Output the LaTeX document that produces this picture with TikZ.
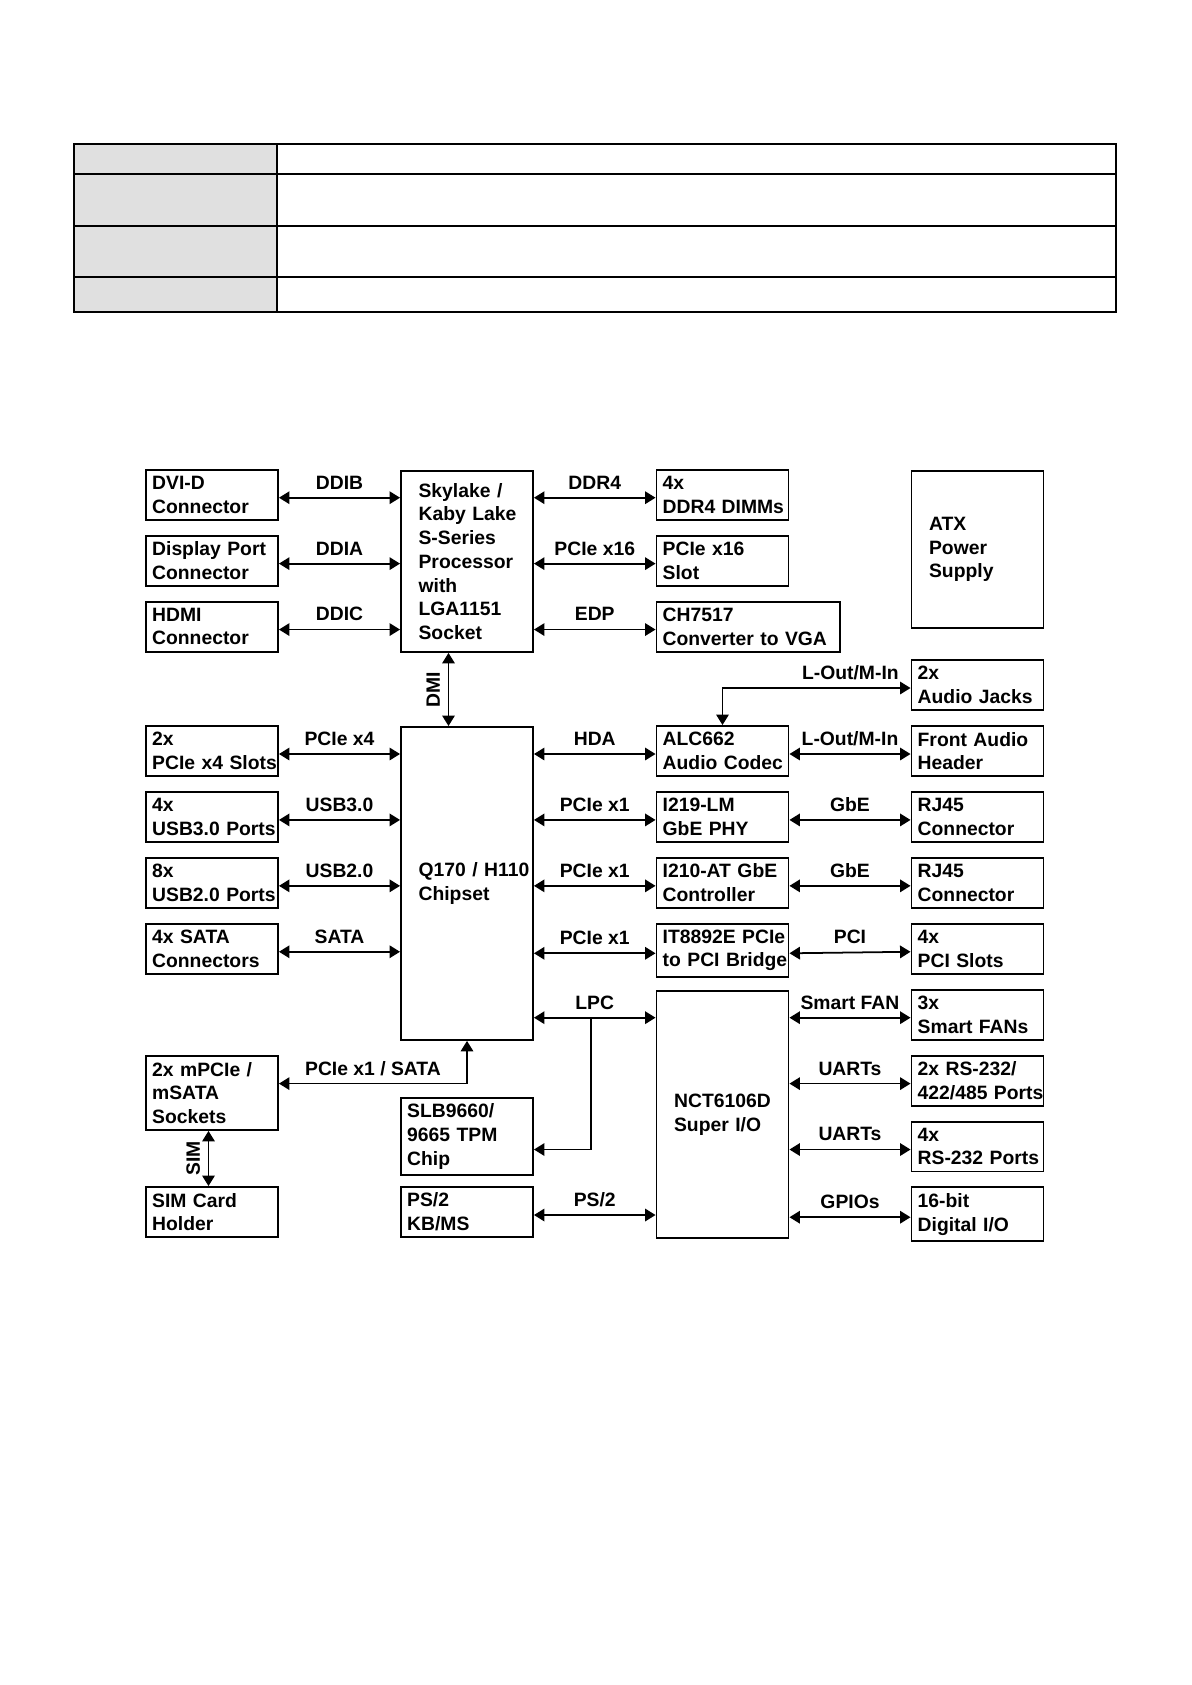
\documentclass[tikz,border=0pt]{standalone}
\usepackage{fontspec}
\setmainfont{Liberation Sans}
\usetikzlibrary{arrows.meta,positioning,calc}
\definecolor{hdrgray}{RGB}{224,224,224}
\newcommand{\busline}[3]{\draw[arr] ([yshift=-0.06cm]#1) -- ([yshift=-0.06cm]#2) node[lbl, midway, above=4.4pt] {#3};}

\begin{document}
\begin{tikzpicture}[x=0.02cm, y=-0.02cm, node distance=0.28cm,
  blk/.style={draw, line width=1.1pt, minimum width=2.64cm, minimum height=1cm, text width=68.1pt, inner xsep=3.5pt, align=left, font=\fontsize{11}{13.5}\selectfont\bfseries},
  bigblk/.style={blk, text width=55.1pt, inner xsep=10pt},
  arr/.style={{Triangle[length=2.1mm,width=2.5mm]}-{Triangle[length=2.1mm,width=2.5mm]}, line width=1pt},
  onearr/.style={-{Triangle[length=2.1mm,width=2.5mm]}, line width=1pt},
  lbl/.style={inner sep=0pt, text depth=0pt, font=\fontsize{11}{13.5}\selectfont\bfseries}]
\useasboundingbox (0,0) rectangle (1192,1685);
% spec table (empty cells)
\fill[hdrgray] (74.3,144.3) rectangle (277.3,312.3);
\draw[line width=1.1pt] (74.3,144.3) rectangle (1116.3,312.3);
\draw[line width=1.1pt] (74.3,174) -- (1116.3,174); \draw[line width=1.1pt] (74.3,226.3) -- (1116.3,226.3);
\draw[line width=1.1pt] (74.3,277) -- (1116.3,277); \draw[line width=1.1pt] (277.3,144.3) -- (277.3,312.3);
% processor and display outputs
\node[blk] (dvi) at (212,494.7) {DVI-D\\Connector};
\node[blk, below=of dvi] (dp) {Display Port\\Connector};
\node[blk, below=of dp] (hdmi) {HDMI\\Connector};
\node[bigblk, minimum height=3.62cm, anchor=north] (cpu) at (467,470) {Skylake /\\Kaby~Lake\\S-Series\\Processor\\with\\LGA1151\\Socket};
\node[blk] (ddr) at (722.5,494.7) {4x\\DDR4~DIMMs};
\node[blk, below=of ddr] (x16) {PCIe x16\\Slot};
\node[blk, below=of x16.south west, anchor=north west, minimum width=3.66cm, text width=97.2pt] (vga) {CH7517\\Converter to VGA};
\node[bigblk, minimum height=3.14cm, anchor=north] (atx) at (977.5,470) {ATX\\Power\\Supply};
\node[blk] (jacks) at (977.5,685) {2x\\Audio Jacks};
% chipset
\node[bigblk, minimum height=6.26cm, anchor=north] (chip) at (467,726) {Q170~/~H110\\Chipset};
\node[blk] (pcie4) at (212,751) {2x\\PCIe~x4~Slots};
\node[blk, below=of pcie4] (usb3) {4x\\USB3.0~Ports};
\node[blk, below=of usb3] (usb2) {8x\\USB2.0~Ports};
\node[blk, below=of usb2] (sata) {4x SATA\\Connectors};
\node[blk] (alc) at (722.5,751) {ALC662\\Audio~Codec};
\node[blk, below=of alc] (phy) {I219-LM\\GbE PHY};
\node[blk, below=of phy] (mac) {I210-AT~GbE\\Controller};
\node[blk, below=of mac] (bridge) {IT8892E~PCIe\\to~PCI~Bridge};
\node[blk] (front) at (977.5,751) {Front~Audio\\Header};
\node[blk, below=of front] (rj1) {RJ45\\Connector};
\node[blk, below=of rj1] (rj2) {RJ45\\Connector};
\node[blk, below=of rj2] (pci) {4x\\PCI Slots};
% super i/o
\node[blk, below=of pci] (fans) {3x\\Smart FANs};
\node[blk, below=of fans] (com1) {2x RS-232/\\\mbox{422/485 Ports}};
\node[blk, below=of com1] (com2) {4x\\\mbox{RS-232 Ports}};
\node[blk, below=of com2] (dio) {16-bit\\Digital I/O};
\node[bigblk, minimum height=4.94cm, anchor=north] (sio) at (722.5,990) {NCT6106D\\Super I/O};
\node[blk, minimum height=1.48cm, anchor=north] (msata) at (212,1055) {2x mPCIe /\\mSATA\\Sockets};
\node[blk] (sim) at (212,1212) {SIM Card\\Holder};
\node[blk, minimum height=1.5cm, anchor=north] (tpm) at (467,1097) {SLB9660/\\9665 TPM\\Chip};
\node[blk] (ps2) at (467,1212) {PS/2\\KB/MS};
% links
\busline{dvi.east}{dvi.east -| cpu.west}{DDIB}
\busline{dp.east}{dp.east -| cpu.west}{DDIA}
\busline{hdmi.east}{hdmi.east -| cpu.west}{DDIC}
\busline{ddr.west -| cpu.east}{ddr.west}{DDR4}
\busline{x16.west -| cpu.east}{x16.west}{PCIe x16}
\busline{vga.west -| cpu.east}{vga.west}{EDP}
\draw[arr] ([xshift=-0.37cm]cpu.south) -- ([xshift=-0.37cm]cpu.south |- chip.north) node[lbl, midway, rotate=90, anchor=south, inner ysep=4.4pt] {DMI};
\busline{pcie4.east}{pcie4.east -| chip.west}{PCIe x4}
\busline{usb3.east}{usb3.east -| chip.west}{USB3.0}
\busline{usb2.east}{usb2.east -| chip.west}{USB2.0}
\busline{sata.east}{sata.east -| chip.west}{SATA}
\busline{alc.west -| chip.east}{alc.west}{HDA}
\busline{phy.west -| chip.east}{phy.west}{PCIe x1}
\busline{mac.west -| chip.east}{mac.west}{PCIe x1}
\busline{bridge.west -| chip.east}{bridge.west}{PCIe x1}
\draw[arr] ([yshift=-0.06cm]jacks.west) -| (alc.north) node[lbl, pos=0.16, above=4.4pt] {L-Out/M-In};
\busline{alc.east}{front.west}{L-Out/M-In}
\busline{phy.east}{rj1.west}{GbE}
\busline{mac.east}{rj2.west}{GbE}
\busline{bridge.east}{pci.west}{PCI}
\busline{fans.west -| chip.east}{fans.west -| sio.west}{LPC}
\coordinate (lpc) at ($([yshift=-0.06cm]fans.west -| chip.east)!0.47!([yshift=-0.06cm]fans.west -| sio.west)$);
\draw[onearr] (lpc) |- ([yshift=-0.06cm]tpm.east |- com2.west);
\draw[arr] ([yshift=-0.06cm]msata.east |- com1.west) -| (chip.south) node[lbl, pos=0.25, above=4.4pt] {PCIe x1 / SATA};
\draw[arr] ([xshift=-0.07cm]msata.south) -- ([xshift=-0.07cm]sim.north) node[lbl, midway, rotate=90, anchor=south, inner ysep=4.4pt] {SIM};
\busline{ps2.east}{ps2.east -| sio.west}{PS/2}
\busline{fans.west -| sio.east}{fans.west}{Smart FAN}
\busline{com1.west -| sio.east}{com1.west}{UARTs}
\busline{com2.west -| sio.east}{com2.west}{UARTs}
\busline{dio.west -| sio.east}{dio.west}{GPIOs}
\end{tikzpicture}
\end{document}
